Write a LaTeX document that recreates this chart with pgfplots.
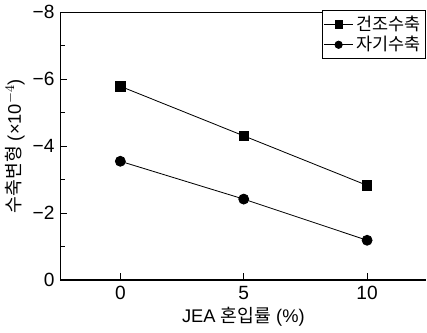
\documentclass[border=0pt]{standalone}
\usepackage{pgfplots}
\pgfplotsset{compat=1.18}
\usepackage{fontspec}
\setmainfont{Liberation Sans}
\newfontfamily\kr{Noto Sans CJK KR}
\begin{document}
\begin{tikzpicture}
\begin{axis}[
  scale only axis,
  width=220pt, height=161pt,
  xmin=-2.43, xmax=12.4,
  ymin=-8, ymax=0,
  y dir=reverse,
  xtick={0,5,10},
  ytick={-8,-6,-4,-2,0},
  yticklabels={−8,−6,−4,−2,0},
  minor ytick={-7,-5,-3,-1},
  tick align=inside,
  major tick length=4pt,
  minor tick length=3pt,
  axis x line*=bottom,
  axis y line*=left,
  axis line style={line width=0.8pt},
  tick style={black, line width=0.7pt},
  /pgf/number format/assume math mode=true,
  ticklabel style={font=\fontsize{11.5}{12}\selectfont},
  xlabel={JEA {\kr 혼입률} (\%)},
  ylabel={{\kr 수축변형} (×10$^{-4}$)},
  label style={font=\fontsize{11}{12}\selectfont},
  xlabel style={yshift=2pt},
  ylabel style={yshift=-2pt},
  legend style={at={(rel axis cs:1,1.007)}, anchor=north east,
    draw=black, line width=0.6pt, inner sep=1pt, row sep=-2pt,
    font=\fontsize{10.5}{11}\selectfont\kr, cells={anchor=west}},
  legend image post style={line width=0.5pt, mark size=2.2pt},
  clip=false,
]
\draw[line width=0.8pt] (rel axis cs:0,1) -- (rel axis cs:1,1);
\addplot[black, line width=0.5pt, mark=square*, mark size=2.8pt] coordinates {(0,-5.79) (5,-4.31) (10,-2.83)};
\addlegendentry{건조수축}
\addplot[black, line width=0.5pt, mark=*, mark size=3pt] coordinates {(0,-3.55) (5,-2.42) (10,-1.19)};
\addlegendentry{자기수축}
\end{axis}
\end{tikzpicture}
\end{document}
